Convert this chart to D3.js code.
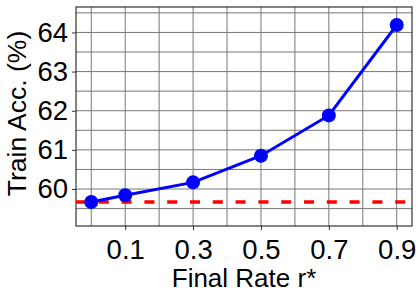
<!DOCTYPE html>
<html>
<head>
<meta charset="utf-8">
<script src="https://cdn.jsdelivr.net/npm/d3@7"></script>
<style>
  body { margin: 0; background: #fff; }
  text { font-family: "Liberation Sans", Arial, sans-serif; fill: #000; }
</style>
</head>
<body>
<script>
// chart data
const rates = [0, 0.1, 0.3, 0.5, 0.7, 0.9]
const trainAcc = [59.67, 59.84, 60.17, 60.85, 61.88, 64.19]
const baseline = 59.67
const xTicks = [0.1, 0.3, 0.5, 0.7, 0.9]
const yTicks = [60, 61, 62, 63, 64]

// canvas and plot area
const width = 420,
height = 300,
plotLeft = 76, plotRight = 412, plotTop = 7, plotBottom = 226

const xScale = d3.scaleLinear()
	.domain([-0.045, 0.945])
	.range([plotLeft, plotRight])

const yScale = d3.scaleLinear()
	.domain([59.055, 64.65])
	.range([plotBottom, plotTop])

const svg = d3.select("body")
	.append("svg")
	.attr("width", width)
	.attr("height", height)

// grid lines every 0.1 on x, every 0.5 on y
const gridX = d3.range(0, 0.95, 0.1)
const gridY = d3.range(59.5, 64.6, 0.5)

svg.append("g")
	.selectAll("line")
	.data(gridX)
	.enter()
	.append("line")
	.attr("x1", d => xScale(d))
	.attr("x2", d => xScale(d))
	.attr("y1", plotTop)
	.attr("y2", plotBottom)
	.attr("stroke", "#777")
	.attr("stroke-width", 1)

svg.append("g")
	.selectAll("line")
	.data(gridY)
	.enter()
	.append("line")
	.attr("x1", plotLeft)
	.attr("x2", plotRight)
	.attr("y1", d => yScale(d))
	.attr("y2", d => yScale(d))
	.attr("stroke", "#777")
	.attr("stroke-width", 1)

// axes (ticks + labels)
const xAxis = svg.append("g")
	.attr("transform", `translate(0,${plotBottom})`)
	.call(d3.axisBottom(xScale).tickValues(xTicks).tickSize(4).tickPadding(9).tickFormat(d3.format(".1f")))

const yAxis = svg.append("g")
	.attr("transform", `translate(${plotLeft},0)`)
	.call(d3.axisLeft(yScale).tickValues(yTicks).tickSize(4).tickPadding(4).tickFormat(d3.format("d")))

for (const ax of [xAxis, yAxis]) {
	ax.select(".domain").remove()
	ax.selectAll("line").attr("stroke", "#333")
	ax.selectAll("text").style("font-size", "27.5px").attr("fill", "#000")
}

// frame
svg.append("rect")
	.attr("x", plotLeft)
	.attr("y", plotTop)
	.attr("width", plotRight - plotLeft)
	.attr("height", plotBottom - plotTop)
	.attr("fill", "none")
	.attr("stroke", "#333")
	.attr("stroke-width", 1.2)

// red dashed baseline
svg.append("line")
	.attr("x1", plotLeft)
	.attr("x2", plotRight)
	.attr("y1", yScale(baseline))
	.attr("y2", yScale(baseline))
	.attr("stroke", "#ff0000")
	.attr("stroke-width", 3.5)
	.attr("stroke-dasharray", "10,12.8")

// blue line with markers
const line = d3.line()
	.x((d, i) => xScale(rates[i]))
	.y(d => yScale(d))

svg.append("path")
	.datum(trainAcc)
	.attr("d", line)
	.attr("fill", "none")
	.attr("stroke", "#0000ff")
	.attr("stroke-width", 3)

svg.selectAll("circle")
	.data(trainAcc)
	.enter()
	.append("circle")
	.attr("cx", (d, i) => xScale(rates[i]))
	.attr("cy", d => yScale(d))
	.attr("r", 7)
	.attr("fill", "#0000ff")

// axis titles
svg.append("text")
	.attr("x", (plotLeft + plotRight) / 2)
	.attr("y", 287)
	.attr("text-anchor", "middle")
	.style("font-size", "26px")
	.text("Final Rate r*")

svg.append("text")
	.attr("transform", `translate(26,${(plotTop + plotBottom) / 2 - 3}) rotate(-90)`)
	.attr("text-anchor", "middle")
	.style("font-size", "26.5px")
	.text("Train Acc. (%)")
</script>
</body>
</html>
